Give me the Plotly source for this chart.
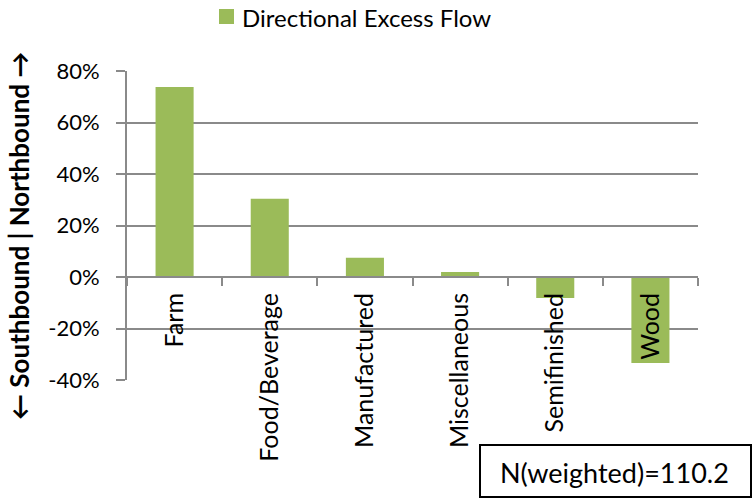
import plotly.graph_objects as go

# Directional excess flow by commodity group (positive = northbound)
categories = ["Farm", "Food/Beverage", "Manufactured", "Miscellaneous", "Semifinished", "Wood"]
excess_flow = [0.738, 0.304, 0.075, 0.019, -0.082, -0.334]
series_name = "Directional Excess Flow"
y_ticks = [-0.4, -0.2, 0.0, 0.2, 0.4, 0.6, 0.8]
y_tick_text = ["-40%", "-20%", "0%", "20%", "40%", "60%", "80%"]
n_label = "N(weighted)=110.2"

W, H = 753, 499
L, R, T, B = 127, 55, 71, 119
FONT = "Lato, 'Open Sans', sans-serif"
GRID = "#8a8a8a"
GREEN = "#9bbb59"

ymin, ymax = y_ticks[0], y_ticks[-1]
zero_pos = (0 - ymin) / (ymax - ymin)
pw, ph = W - L - R, H - T - B


def px_x(v):
    return (v - L) / pw


def px_y(v):
    return (H - B - v) / ph


fig = go.Figure()
fig.add_trace(go.Bar(
    x=categories, y=excess_flow, name=series_name,
    marker=dict(color=GREEN, line=dict(width=0)),
    width=0.4, showlegend=False,
))

fig.update_layout(
    width=W, height=H,
    margin=dict(l=L, r=R, t=T, b=B, autoexpand=False),
    paper_bgcolor="white", plot_bgcolor="white",
    font=dict(family=FONT, size=22, color="#000000"),
    showlegend=False,
    xaxis=dict(
        anchor="free", position=zero_pos,
        showline=True, linecolor=GRID, linewidth=2,
        ticks="outside", ticklen=8, tickcolor=GRID, tickwidth=2,
        tickson="boundaries", tickangle=-90,
        tickfont=dict(size=25), ticklabelstandoff=5,
        showgrid=False, zeroline=False,
    ),
    yaxis=dict(
        range=[ymin, ymax], tickvals=y_ticks, ticktext=y_tick_text,
        showline=True, linecolor=GRID, linewidth=2,
        ticks="outside", ticklen=9, tickcolor=GRID, tickwidth=2,
        showgrid=True, gridcolor=GRID, gridwidth=2,
        zeroline=False, tickfont=dict(size=22),
        ticklabelstandoff=12,
    ),
    bargap=0.6,
)

# Legend: swatch + series name centred above the plot
fig.add_shape(
    type="rect", xref="paper", yref="paper",
    x0=px_x(219), x1=px_x(234), y0=px_y(24), y1=px_y(9),
    line=dict(width=0), fillcolor=GREEN,
)
fig.add_annotation(
    text=series_name, xref="paper", yref="paper",
    x=px_x(240), y=px_y(17), showarrow=False,
    font=dict(size=24), xanchor="left", yanchor="middle",
)

# Axis title reading bottom to top
fig.add_annotation(
    text="<b>\u2190 Southbound | Northbound \u2192</b>",
    xref="paper", yref="paper",
    x=px_x(19), y=px_y(236),
    textangle=-90, showarrow=False, font=dict(size=26),
    xanchor="center", yanchor="middle",
)

# Boxed sample-size note in the lower right corner
fig.add_shape(
    type="rect", xref="paper", yref="paper",
    x0=px_x(480), x1=px_x(751), y0=px_y(497), y1=px_y(445),
    line=dict(color="black", width=2), fillcolor="white",
)
fig.add_annotation(
    text=n_label, xref="paper", yref="paper",
    x=px_x(614), y=px_y(473), showarrow=False,
    font=dict(size=27), xanchor="center", yanchor="middle",
)

fig.write_html("out.html")
